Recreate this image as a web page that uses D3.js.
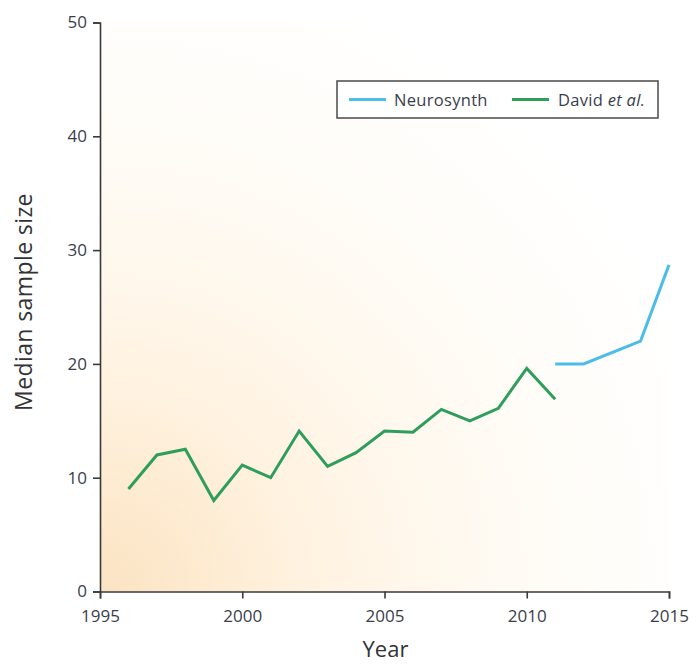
<!DOCTYPE html>
<html>
<head>
<meta charset="utf-8">
<script src="https://cdn.jsdelivr.net/npm/d3@7"></script>
<style>
  html, body { margin: 0; padding: 0; background: #ffffff; }
  svg { display: block; font-family: "Open Sans", "Noto Sans", sans-serif; }
</style>
</head>
<body>
<svg id="chart" width="699" height="665"></svg>
<script>
// Median sample size per publication year
const davidYears  = [1996, 1997, 1998, 1999, 2000, 2001, 2002, 2003, 2004, 2005, 2006, 2007, 2008, 2009, 2010, 2011];
const davidValues = [9, 12, 12.5, 8, 11.1, 10, 14.1, 11, 12.2, 14.1, 14, 16, 15, 16.1, 19.6, 16.9];

const neuroYears  = [2011, 2012, 2014, 2015];
const neuroValues = [20, 20, 22, 28.7];

const xTicks = [1995, 2000, 2005, 2010, 2015];
const yTicks = [0, 10, 20, 30, 40, 50];

const seriesNames = ["Neurosynth", "David"];

const svg = d3.select("#chart");
const plotLeft = 100, plotRight = 669, plotTop = 22.5, plotBottom = 591.5;

const x = d3.scaleLinear().domain([1995, 2015]).range([plotLeft, plotRight]);
const y = d3.scaleLinear().domain([0, 50]).range([plotBottom, plotTop]);

// Warm radial wash spreading from the origin corner
const defs = svg.append("defs");
const grad = defs.append("radialGradient")
  .attr("id", "wash")
  .attr("gradientUnits", "userSpaceOnUse")
  .attr("cx", plotLeft).attr("cy", plotBottom)
  .attr("r", 640);
[[0, "#fbe3c3"], [0.15, "#fdeacf"], [0.32, "#fff2e0"], [0.48, "#fff7eb"], [0.72, "#fffcf7"], [1, "#ffffff"]]
  .forEach(([o, c]) => grad.append("stop").attr("offset", o).attr("stop-color", c));

svg.append("rect")
  .attr("x", plotLeft).attr("y", plotTop)
  .attr("width", plotRight - plotLeft).attr("height", plotBottom - plotTop)
  .attr("fill", "url(#wash)");

const textColor = "#3a3e4b";

// Axes
const xAxis = svg.append("g")
  .attr("transform", `translate(0,${plotBottom})`)
  .call(d3.axisBottom(x).tickValues(xTicks).tickFormat(d3.format("d")).tickSize(7).tickPadding(7));
const yAxis = svg.append("g")
  .attr("transform", `translate(${plotLeft},0)`)
  .call(d3.axisLeft(y).tickValues(yTicks).tickSize(7).tickPadding(6));

[xAxis, yAxis].forEach(g => {
  g.select(".domain").attr("stroke", "#3a3a3a").attr("stroke-width", 1.6);
  g.selectAll(".tick line").attr("stroke", "#3a3a3a").attr("stroke-width", 1.6);
  g.selectAll(".tick text")
    .attr("fill", textColor)
    .style("font-size", "17px")
    .style("font-family", "'Open Sans', 'Noto Sans', sans-serif");
});
xAxis.selectAll(".tick text").attr("dy", "0.95em");

// Axis titles
svg.append("text")
  .attr("x", (plotLeft + plotRight) / 2 + 1)
  .attr("y", 657)
  .attr("text-anchor", "middle")
  .attr("fill", "#333")
  .style("font-size", "22px")
  .text("Year");

svg.append("text")
  .attr("transform", `translate(32,302) rotate(-90)`)
  .attr("text-anchor", "middle")
  .attr("fill", "#333")
  .style("font-size", "23px")
  .style("letter-spacing", "0.4px")
  .text("Median sample size");

// Lines
const line = d3.line().x(d => x(d[0])).y(d => y(d[1]));
const colors = { Neurosynth: "#4cbde9", David: "#2f9d5c" };

svg.append("path")
  .datum(davidYears.map((yr, i) => [yr, davidValues[i]]))
  .attr("d", line)
  .attr("fill", "none")
  .attr("stroke", colors.David)
  .attr("stroke-width", 3)
  .attr("stroke-linejoin", "miter");

svg.append("path")
  .datum(neuroYears.map((yr, i) => [yr, neuroValues[i]]))
  .attr("d", line)
  .attr("fill", "none")
  .attr("stroke", colors.Neurosynth)
  .attr("stroke-width", 3)
  .attr("stroke-linejoin", "miter");

// Legend
const legend = svg.append("g");
legend.append("rect")
  .attr("x", 337).attr("y", 81)
  .attr("width", 321).attr("height", 37)
  .attr("fill", "#ffffff")
  .attr("stroke", "#4a4a4a")
  .attr("stroke-width", 1.5);

legend.append("line")
  .attr("x1", 349).attr("x2", 386).attr("y1", 99.5).attr("y2", 99.5)
  .attr("stroke", colors.Neurosynth).attr("stroke-width", 3);
legend.append("text")
  .attr("x", 394).attr("y", 105.5)
  .attr("fill", textColor)
  .style("font-size", "16.5px")
  .style("letter-spacing", "0.3px")
  .text(seriesNames[0]);

legend.append("line")
  .attr("x1", 512).attr("x2", 549).attr("y1", 99.5).attr("y2", 99.5)
  .attr("stroke", colors.David).attr("stroke-width", 3);
const lt = legend.append("text")
  .attr("x", 558).attr("y", 105.5)
  .attr("fill", textColor)
  .style("font-size", "16.5px")
  .style("letter-spacing", "0.3px");
lt.append("tspan").text(seriesNames[1] + " ");
lt.append("tspan").style("font-style", "italic").text("et al.");
</script>
</body>
</html>
